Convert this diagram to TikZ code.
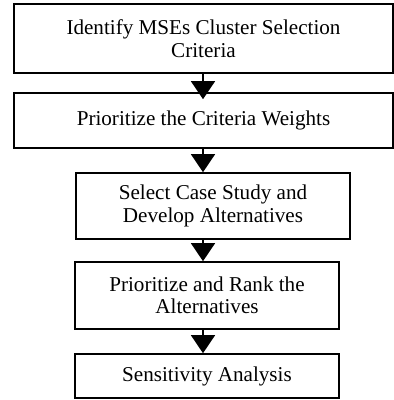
\documentclass[tikz,border=0pt]{standalone}
\usepackage{fontspec}
\setmainfont{Liberation Serif}
\usetikzlibrary{arrows.meta}
\usetikzlibrary{calc}

\begin{document}
\begin{tikzpicture}[x=1bp,y=-1bp,
    stage/.style={draw, line width=1.6bp, align=center, inner sep=0pt,
      font=\fontsize{21.2}{22.5}\selectfont},
    flow/.style={line width=1.2bp, -{Triangle[width=24bp,length=18bp]}}]

        \useasboundingbox (0,0) rectangle (394,400);

        % Stages
        \node[stage, minimum width=379bp, minimum height=69bp] (criteria) at (203.5,38.5)
          {Identify MSEs Cluster Selection\\Criteria};
        \node[stage, minimum width=379bp, minimum height=55bp] (weights) at (203.5,120.5)
          {Prioritize the Criteria Weights};
        \node[stage, minimum width=274bp, minimum height=66bp] (casestudy) at (213,206)
          {Select Case Study and\\Develop Alternatives};
        \node[stage, minimum width=264bp, minimum height=67bp] (ranking) at (207,295.5)
          {Prioritize and Rank the\\Alternatives};
        \node[stage, minimum width=264bp, minimum height=44bp] (sensitivity) at (207,376)
          {Sensitivity Analysis};

        % Arrows
        \coordinate (axis) at (203,0);
        \draw[flow] (criteria.south -| axis) -- ($(weights.north -| axis)+(0,7)$);
        \foreach \a/\b in {weights/casestudy, casestudy/ranking, ranking/sensitivity}
        {
          \draw[flow] (\a.south -| axis) -- (\b.north -| axis);
        }
    \end{tikzpicture}
\end{document}
